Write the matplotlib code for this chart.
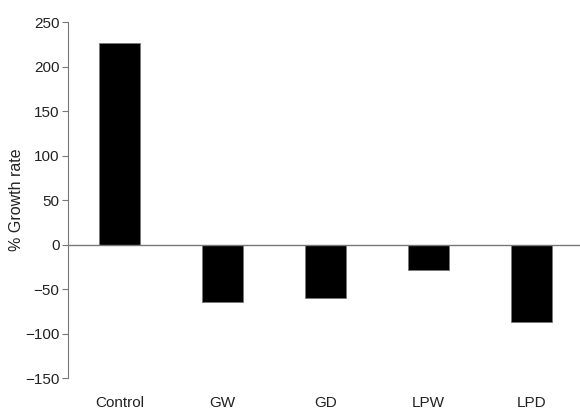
import matplotlib
matplotlib.use('Agg')
import matplotlib.pyplot as plt

groups = ['Control', 'GW', 'GD', 'LPW', 'LPD']
growth = [227, -65, -60, -29, -87]
yticks = [-150, -100, -50, 0, 50, 100, 150, 200, 250]

plt.rcParams['font.family'] = ['Liberation Sans', 'DejaVu Sans']

fig = plt.figure(figsize=(5.8, 4.12), dpi=100)
ax = fig.add_axes([0.117, 0.0825, 0.883, 0.864])

x = list(range(len(groups)))
ax.bar(x, growth, width=0.4, color='black', edgecolor='#777777', linewidth=0.6, zorder=2)
ax.axhline(0, color='#777777', linewidth=1.0, zorder=3)

ax.set_ylim(-150, 250)
ax.set_xlim(-0.5, 4.47)
ax.set_yticks(yticks)
ax.set_yticklabels(['\u2212' + str(-t) if t < 0 else str(t) for t in yticks])
ax.set_xticks(x)
ax.set_xticklabels(groups)
ax.tick_params(axis='x', length=0, pad=13, labelsize=11, labelcolor='#222222')
ax.tick_params(axis='y', length=4, width=0.8, color='#777777', labelsize=11,
               labelcolor='#222222', pad=2)
ax.set_ylabel('% Growth rate', fontsize=11.5, labelpad=1, color='#222222')

for side in ['top', 'right', 'bottom']:
    ax.spines[side].set_visible(False)
ax.spines['left'].set_color('#777777')
ax.spines['left'].set_linewidth(0.8)

fig.savefig('out.png', dpi=100)
